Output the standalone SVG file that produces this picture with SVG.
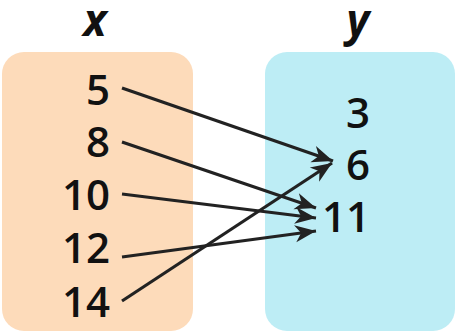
<svg xmlns="http://www.w3.org/2000/svg" width="456" height="333" viewBox="0 0 456 333">
<style>
.num{font-family:"Open Sans","Noto Sans",sans-serif;font-weight:600;font-size:42px;fill:#111}
.hdr{font-family:"Open Sans","Noto Sans",sans-serif;font-weight:700;font-style:italic;font-size:44px;fill:#111}
.con{stroke:#222;stroke-width:3.2;fill:none;marker-end:url(#ah)}
</style>
<defs>
<marker id="ah" markerUnits="userSpaceOnUse" markerWidth="30" markerHeight="24" viewBox="-22 -12 24 24" refX="0" refY="0" orient="auto">
<path d="M0,0 L-21,-8.5 L-15,0 L-21,8.5 Z" fill="#222"/>
</marker>
</defs>
<g id="domain">
<rect x="2" y="52" width="191" height="279" rx="22" fill="#FDDBBA"/>
<text class="hdr" x="95" y="36" text-anchor="middle">x</text>
<text class="num" x="110" y="105" text-anchor="end">5</text>
<text class="num" x="110" y="157" text-anchor="end">8</text>
<text class="num" x="110" y="210" text-anchor="end">10</text>
<text class="num" x="110" y="263" text-anchor="end">12</text>
<text class="num" x="110" y="317" text-anchor="end">14</text>
</g>
<g id="range">
<rect x="265" y="52" width="190" height="279" rx="22" fill="#BDEDF5"/>
<text class="hdr" x="358" y="36" text-anchor="middle">y</text>
<text class="num" x="358" y="128" text-anchor="middle">3</text>
<text class="num" x="358" y="180" text-anchor="middle">6</text>
<text class="num" x="346" y="232" text-anchor="middle">11</text>
</g>
<g id="connectors">
<line class="con" x1="122" y1="88" x2="333" y2="161"/>
<line class="con" x1="122" y1="142" x2="316" y2="208"/>
<line class="con" x1="122" y1="194" x2="316" y2="218"/>
<line class="con" x1="122" y1="257" x2="316" y2="231"/>
<line class="con" x1="122" y1="301" x2="332" y2="163"/>
</g>
</svg>
